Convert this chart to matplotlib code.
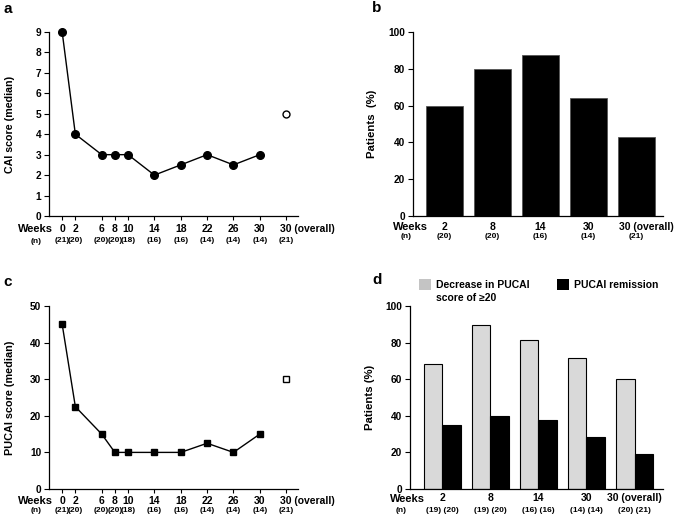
import matplotlib
matplotlib.use("Agg")
import matplotlib.pyplot as plt
from matplotlib.patches import Rectangle

plt.rcParams['font.family'] = ['Liberation Sans', 'DejaVu Sans']
plt.rcParams['font.weight'] = 'bold'

# ---- data ----
weeks = [0, 2, 6, 8, 10, 14, 18, 22, 26, 30]
week_n = ["(21)", "(20)", "(20)", "(20)", "(18)", "(16)", "(16)", "(14)", "(14)", "(14)"]
overall_pos = 34
overall_label = "30 (overall)"
overall_n = "(21)"

cai_median = [9, 4, 3, 3, 3, 2, 2.5, 3, 2.5, 3]
cai_overall = 5
pucai_median = [45, 22.5, 15, 10, 10, 10, 10, 12.5, 10, 15]
pucai_overall = 30

b_labels = ["2", "8", "14", "30", "30 (overall)"]
b_n = ["(20)", "(20)", "(16)", "(14)", "(21)"]
b_values = [60, 80, 87.5, 64.3, 42.9]

d_labels = ["2", "8", "14", "30", "30 (overall)"]
d_n = ["(19) (20)", "(19) (20)", "(16) (16)", "(14) (14)", "(20) (21)"]
d_decrease = [68.4, 89.5, 81.25, 71.4, 60.0]
d_remission = [35.0, 40.0, 37.5, 28.6, 19.0]

W, H = 685, 518
PX = 0.72  # points per pixel at 100 dpi
fig = plt.figure(figsize=(W / 100, H / 100), dpi=100)


def rect(l, t, r, b):
    return [l / W, 1 - b / H, (r - l) / W, (b - t) / H]


def style(ax, xticks=True):
    for s in ['top', 'right']:
        ax.spines[s].set_visible(False)
    for s in ['left', 'bottom']:
        ax.spines[s].set_linewidth(0.9)
    ax.tick_params(axis='y', length=3.5, width=0.8, labelsize=7.3, pad=2)
    ax.tick_params(axis='x', length=3 if xticks else 0, width=0.8, labelbottom=False)
    for lab in ax.get_yticklabels():
        lab.set_fontweight('bold')


def xlabels(ax, xs, labels, ns, lab_dy, n_dy, special=None):
    for i, (x, t, n) in enumerate(zip(xs, labels, ns)):
        dx, ha = 0, 'center'
        if special is not None and i == len(xs) - 1:
            dx, ha = special, 'left'
        ax.annotate(t, xy=(x, 0), xycoords=('data', 'axes fraction'),
                    xytext=(dx * PX, -lab_dy * PX), textcoords='offset points',
                    ha=ha, va='center', fontsize=7.5, fontweight='bold')
        ax.annotate(n, xy=(x, 0), xycoords=('data', 'axes fraction'),
                    xytext=(0, -n_dy * PX), textcoords='offset points',
                    ha='center', va='center', fontsize=6, fontweight='bold')


def row_labels(weeks_right_px, weeks_y_px, n_center_px, n_y_px):
    fig.text(weeks_right_px / W, 1 - weeks_y_px / H, "Weeks", ha='right', va='center',
             fontsize=8, fontweight='bold')
    fig.text(n_center_px / W, 1 - n_y_px / H, "(n)", ha='center', va='center',
             fontsize=6, fontweight='bold')


all_x = weeks + [overall_pos]
all_lab = [str(w) for w in weeks] + [overall_label]
all_n = week_n + [overall_n]

# ---- panel a ----
axa = fig.add_axes(rect(49, 32, 298, 216))
axa.plot(weeks, cai_median, color='black', lw=1.0, marker='o', ms=5.5,
         mfc='black', mec='black', clip_on=False, zorder=3)
axa.plot([overall_pos], [cai_overall], ls='none', marker='o', ms=5,
         mfc='white', mec='black', mew=1.0, clip_on=False)
axa.set_xlim(-2, 35.8)
axa.set_ylim(0, 9)
axa.set_yticks(range(0, 10))
axa.set_xticks(all_x)
style(axa)
axa.set_ylabel("CAI score (median)", fontsize=7.7, fontweight='bold')
axa.yaxis.set_label_coords((15 - 49) / 249, 0.5)
xlabels(axa, all_x, all_lab, all_n, 13, 25, special=-6.5)

# ---- panel c ----
axc = fig.add_axes(rect(49, 306, 298, 489))
axc.plot(weeks, pucai_median, color='black', lw=1.0, marker='s', ms=5,
         mfc='black', mec='black', clip_on=False, zorder=3)
axc.plot([overall_pos], [pucai_overall], ls='none', marker='s', ms=4.5,
         mfc='white', mec='black', mew=1.0, clip_on=False)
axc.set_xlim(-2, 35.8)
axc.set_ylim(0, 50)
axc.set_yticks(range(0, 51, 10))
axc.set_xticks(all_x)
style(axc)
axc.set_ylabel("PUCAI score (median)", fontsize=7.8, fontweight='bold')
axc.yaxis.set_label_coords((15 - 49) / 249, 0.5)
xlabels(axc, all_x, all_lab, all_n, 12, 21, special=-6.5)

# ---- panel b ----
axb = fig.add_axes(rect(413, 32, 663, 216))
xb = list(range(len(b_values)))
axb.bar(xb, b_values, width=0.77, color='black', edgecolor='#555555', lw=0.6)
axb.set_xlim(-0.66, 4.56)
axb.set_ylim(0, 100)
axb.set_yticks(range(0, 101, 20))
axb.set_xticks(xb)
style(axb, xticks=False)
axb.set_ylabel("Patients  (%)", fontsize=8.2, fontweight='bold')
axb.yaxis.set_label_coords((377 - 413) / 250, 0.5)
xlabels(axb, xb, b_labels, b_n, 10.5, 21, special=-17)

# ---- panel d ----
axd = fig.add_axes(rect(410, 306, 663, 489))
xd = list(range(len(d_decrease)))
bw = 0.385
axd.bar([x - bw / 2 for x in xd], d_decrease, width=bw, color='#d9d9d9',
        edgecolor='black', lw=0.8)
axd.bar([x + bw / 2 for x in xd], d_remission, width=bw, color='black',
        edgecolor='black', lw=0.8)
axd.set_xlim(-0.667, 4.59)
axd.set_ylim(0, 100)
axd.set_yticks(range(0, 101, 20))
axd.set_xticks(xd)
style(axd, xticks=False)
axd.set_ylabel("Patients (%)", fontsize=8.2, fontweight='bold')
axd.yaxis.set_label_coords((375 - 410) / 253, 0.5)
xlabels(axd, xd, d_labels, d_n, 9, 21)

# ---- legend of panel d (drawn by hand) ----
def legend_item(x0, color, lines):
    fig.patches.append(Rectangle((x0 / W, 1 - 290 / H), 12 / W, 11 / H,
                                 transform=fig.transFigure, facecolor=color,
                                 edgecolor='none'))
    for k, line in enumerate(lines):
        fig.text((x0 + 17) / W, 1 - (285 + 13 * k) / H, line, ha='left', va='center',
                 fontsize=7.5, fontweight='bold')

legend_item(419, '#c4c4c4', ["Decrease in PUCAI", "score of ≥20"])
legend_item(557, 'black', ["PUCAI remission"])

# ---- "Weeks" / "(n)" row labels ----
row_labels(53, 229, 36, 241)
row_labels(428, 226.5, 406, 237)
row_labels(53, 501, 36, 510)
row_labels(425, 499, 401, 510)

# ---- panel letters ----
for lab, x, y in [('a', 3, 9), ('b', 372, 8), ('c', 3, 282), ('d', 372, 280)]:
    fig.text(x / W, 1 - y / H, lab, fontsize=11, fontweight='bold', va='center', ha='left')

fig.savefig("out.png", dpi=100)
